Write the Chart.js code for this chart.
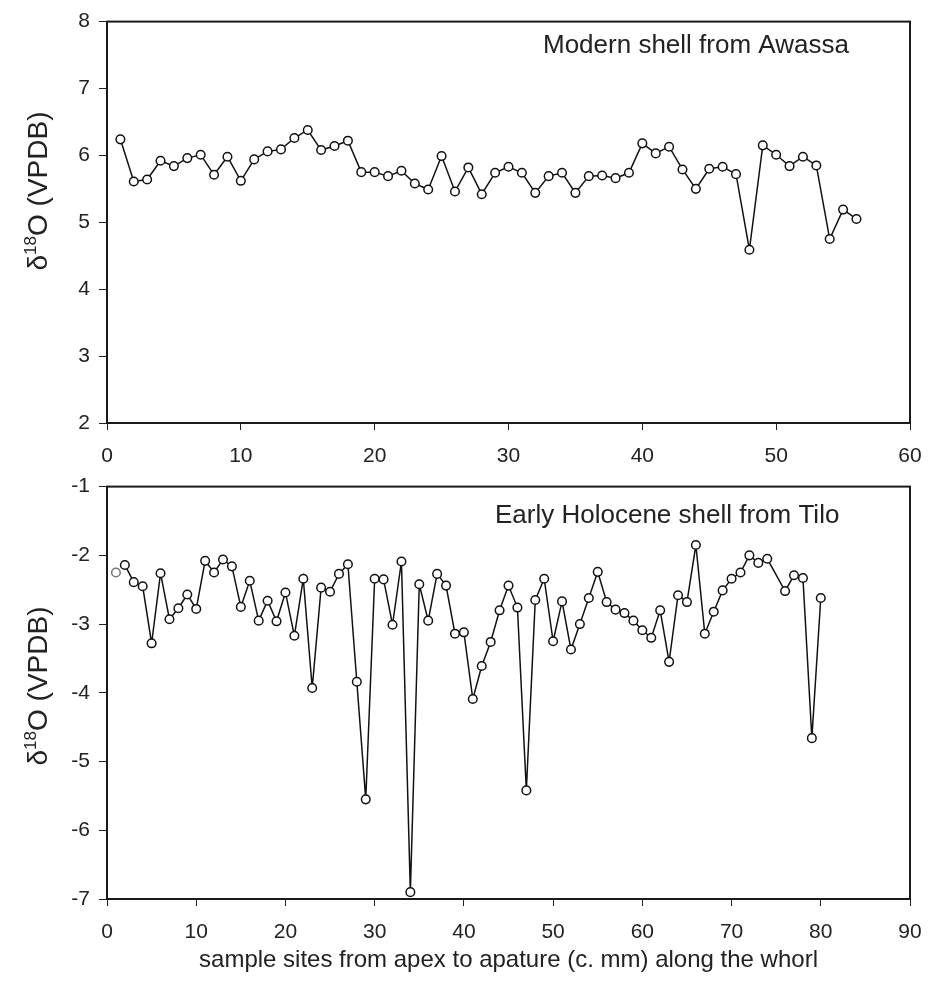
<!DOCTYPE html>
<html>
<head>
<meta charset="utf-8">
<script src="https://cdn.jsdelivr.net/npm/chart.js@4/dist/chart.umd.min.js"></script>
<style>
  html, body { margin: 0; padding: 0; background: #fff; }
  #wrap { position: relative; width: 929px; height: 981px; }
  canvas { position: absolute; left: 0; }
  #c1 { top: 0; }
  #c2 { top: 465px; }
</style>
</head>
<body>
<div id="wrap">
  <canvas id="c1" width="929" height="465"></canvas>
  <canvas id="c2" width="929" height="516"></canvas>
</div>
<script>
// modern shell, Awassa
const awassaX = [1,2,3,4,5,6,7,8,9,10,11,12,13,14,15,16,17,18,19,20,21,22,23,24,25,26,27,28,
  29,30,31,32,33,34,35,36,37,38,39,40,41,42,43,44,45,46,47,48,49,50,51,52,53,54,55,56];
const awassaY = [6.24,5.61,5.64,5.92,5.84,5.96,6.01,5.71,5.98,5.62, 5.94,6.06,6.09,6.26,6.38,6.08,6.14,6.22,5.75,5.75,
  5.69,5.77,5.58,5.49,5.99,5.46,5.82,5.42,5.74,5.83, 5.74,5.44,5.69,5.74,5.44,5.69,5.70,5.66,5.74,6.18,
  6.03,6.13,5.79,5.50,5.80,5.83,5.72,4.59,6.15,6.01, 5.84,5.98,5.85,4.75,5.19,5.05];

// early holocene shell, Tilo (site 75 has no value)
const tiloX = [2,3,4,5,6,7,8,9,10,11,12,13,14,15,16,17,18,19,20,21,22,23,24,25,26,27,28,29,30,
  31,32,33,34,35,36,37,38,39,40,41,42,43,44,45,46,47,48,49,50,51,52,53,54,55,56,57,58,59,60,
  61,62,63,64,65,66,67,68,69,70,71,72,73,74,76,77,78,79,80];
const tiloY = [-2.14,-2.39,-2.45,-3.28,-2.26,-2.93,-2.77,-2.57,-2.78,
  -2.08,-2.25,-2.06,-2.16,-2.75,-2.37,-2.95,-2.66,-2.96,-2.54,
  -3.17,-2.34,-3.93,-2.47,-2.53,-2.27,-2.13,-3.84,-5.55,-2.34,
  -2.35,-3.01,-2.09,-6.90,-2.42,-2.95,-2.27,-2.44,-3.14,-3.12,
  -4.09,-3.61,-3.26,-2.80,-2.44,-2.76,-5.42,-2.65,-2.34,-3.25,
  -2.67,-3.37,-3.00,-2.62,-2.24,-2.68,-2.79,-2.84,-2.95,-3.09,
  -3.20,-2.80,-3.55,-2.58,-2.68,-1.85,-3.14,-2.82,-2.51,-2.34,
  -2.25,-2.00,-2.11,-2.05,-2.52,-2.29,-2.33,-4.66,-2.62];
const tiloFirstX = [1];
const tiloFirstY = [-2.25];

const FONT = "'Liberation Sans', Arial, sans-serif";

const pts = (xs, ys) => xs.map((x, i) => ({ x, y: ys[i] }));

const line = (data, color, showLine) => ({
  data, showLine, borderColor: '#111', borderWidth: 1.5, tension: 0,
  pointRadius: 4.3, pointHoverRadius: 4.3, pointBackgroundColor: '#fff',
  pointBorderColor: color, pointBorderWidth: 1.5
});

function yTitle(ctx, cx, cy){
  ctx.save();
  ctx.translate(cx, cy);
  ctx.rotate(-Math.PI/2);
  ctx.fillStyle = '#222';
  ctx.textBaseline = 'alphabetic';
  ctx.font = '28px ' + FONT;
  const a = 'δ', c = 'O (VPDB)';
  const wa = ctx.measureText(a).width, wc = ctx.measureText(c).width;
  ctx.font = '17px ' + FONT;
  const wb = ctx.measureText('18').width;
  let x = -(wa + wb + wc)/2;
  ctx.font = '28px ' + FONT;
  ctx.fillText(a, x, 0); x += wa;
  ctx.font = '17px ' + FONT;
  ctx.fillText('18', x, -11); x += wb;
  ctx.font = '28px ' + FONT;
  ctx.fillText(c, x, 0);
  ctx.restore();
}

function makeChart(id, H, plotTop, plotBottom, datasets, xMax, yMin, yMax, extra){
  return new Chart(document.getElementById(id), {
    type: 'scatter',
    data: { datasets },
    options: {
      responsive: false, animation: false,
      layout: { padding: { left: 0, right: 19, top: plotTop, bottom: 0 } },
      plugins: { legend: { display: false }, tooltip: { enabled: false } },
      scales: {
        x: {
          type: 'linear', min: 0, max: xMax,
          ticks: { stepSize: 10, color: '#222', font: { family: FONT, size: 21, lineHeight: 1.85 }, padding: 7 },
          grid: { drawOnChartArea: false, drawTicks: true, tickLength: 7, color: '#222' },
          border: { display: false },
          afterFit: s => { s.height = H - plotBottom; }
        },
        y: {
          min: yMin, max: yMax,
          ticks: { stepSize: 1, color: '#222', font: { family: FONT, size: 21 }, padding: 9 },
          grid: { drawOnChartArea: false, drawTicks: true, tickLength: 8, color: '#222' },
          border: { display: false },
          afterFit: s => { s.width = 107; }
        }
      }
    },
    plugins: [{
      id: 'frame',
      afterDraw(chart){
        const { ctx, chartArea: a } = chart;
        ctx.save();
        ctx.strokeStyle = '#1a1a1a';
        ctx.lineWidth = 2;
        ctx.strokeRect(a.left, a.top, a.right - a.left, a.bottom - a.top);
        ctx.restore();
        extra(ctx, a);
      }
    }]
  });
}

makeChart('c1', 465, 16, 423,
  [line(pts(awassaX, awassaY), '#111', true)], 60, 2, 8,
  (ctx, a) => {
    ctx.save();
    ctx.fillStyle = '#222';
    ctx.font = '26px ' + FONT;
    ctx.fillText('Modern shell from Awassa', 543, 53);
    ctx.restore();
    yTitle(ctx, 47, 191);
  });

makeChart('c2', 516, 21, 434,
  [line(pts(tiloX, tiloY), '#111', true), line(pts(tiloFirstX, tiloFirstY), '#777', false)], 90, -7, -1,
  (ctx, a) => {
    ctx.save();
    ctx.fillStyle = '#222';
    ctx.font = '26px ' + FONT;
    ctx.fillText('Early Holocene shell from Tilo', 495, 58);
    ctx.font = '24px ' + FONT;
    ctx.textAlign = 'center';
    ctx.fillText('sample sites from apex to apature (c. mm) along the whorl', (a.left + a.right)/2, 502);
    ctx.restore();
    yTitle(ctx, 47, 221);
  });
</script>
</body>
</html>
